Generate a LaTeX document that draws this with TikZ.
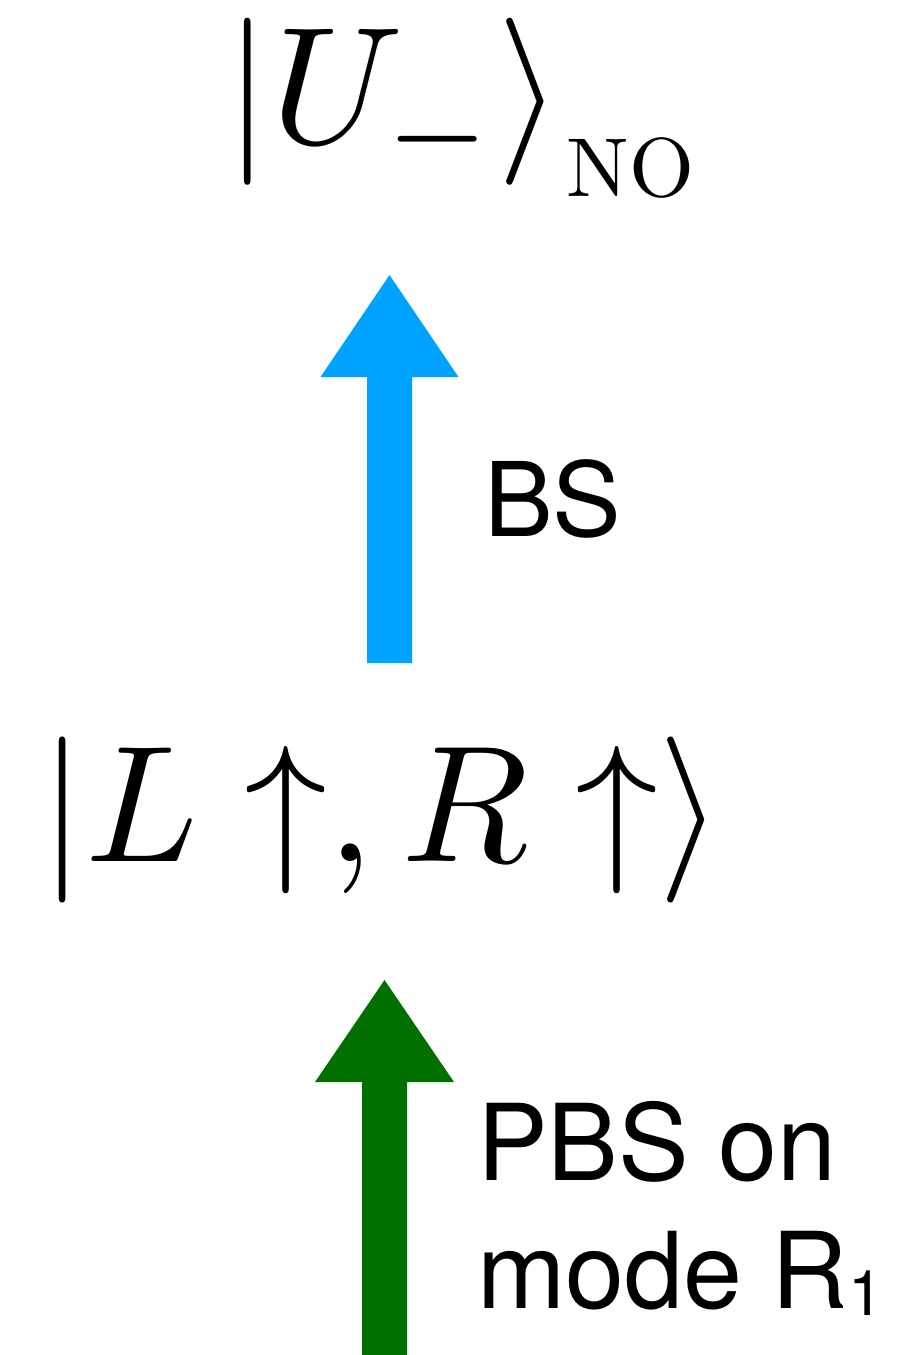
\RequirePackage{fix-cm}
\documentclass[tikz,border=0pt]{standalone}
\usepackage{graphicx}
\usepackage{fontspec}
\usetikzlibrary{calc}
\newfontfamily\heros{TeX Gyre Heros}
\definecolor{bsblue}{RGB}{0,162,255}
\definecolor{pbsgreen}{RGB}{0,113,0}
\tikzset{
  statetext/.style={anchor=base west, inner sep=0pt, font=\fontsize{10}{12}\selectfont},
  labeltext/.style={anchor=base west, inner sep=0pt, align=left},
}
\begin{document}
\begin{tikzpicture}[x=1pt,y=-1pt]
\useasboundingbox (0,0) rectangle (921,1355);
% states
\node[statetext] (top) at (224.5,143) {\scalebox{16.7}{$|U_-\rangle$\kern0.25pt\raisebox{-3.23pt}{\scalebox{0.5}{NO}}}};
\node[statetext] (mid) at (39.6,861) {\scalebox{16.6}{$|L\uparrow,R\uparrow\rangle$}};
% arrow end points
\coordinate (bb) at (389.5,663);
\coordinate (bt) at (389.5,275);
\coordinate (gb) at (384.5,1355);
\coordinate (gt) at (384.5,980);
% blue arrow (BS)
\fill[bsblue] ($(bb)+(-22.5,0)$) -- ($(bt)+(-22.5,102)$) -- ($(bt)+(-69,102)$) -- (bt)
  -- ($(bt)+(69,102)$) -- ($(bt)+(22.5,102)$) -- ($(bb)+(22.5,0)$) -- cycle;
% green arrow (PBS)
\fill[pbsgreen] ($(gb)+(-22.5,0)$) -- ($(gt)+(-22.5,102)$) -- ($(gt)+(-69.5,102)$) -- (gt)
  -- ($(gt)+(69.5,102)$) -- ($(gt)+(22.5,102)$) -- ($(gb)+(22.5,0)$) -- cycle;
% labels
\node[labeltext, font=\heros\fontsize{103}{124}\selectfont] (bs) at (484,536) {BS};
\node[labeltext, font=\heros\fontsize{106}{128}\selectfont] (pbs) at (477,1308)
  {PBS on\\mode R\raisebox{-7pt}{\fontsize{63}{63}\selectfont 1}};
\end{tikzpicture}
\end{document}
